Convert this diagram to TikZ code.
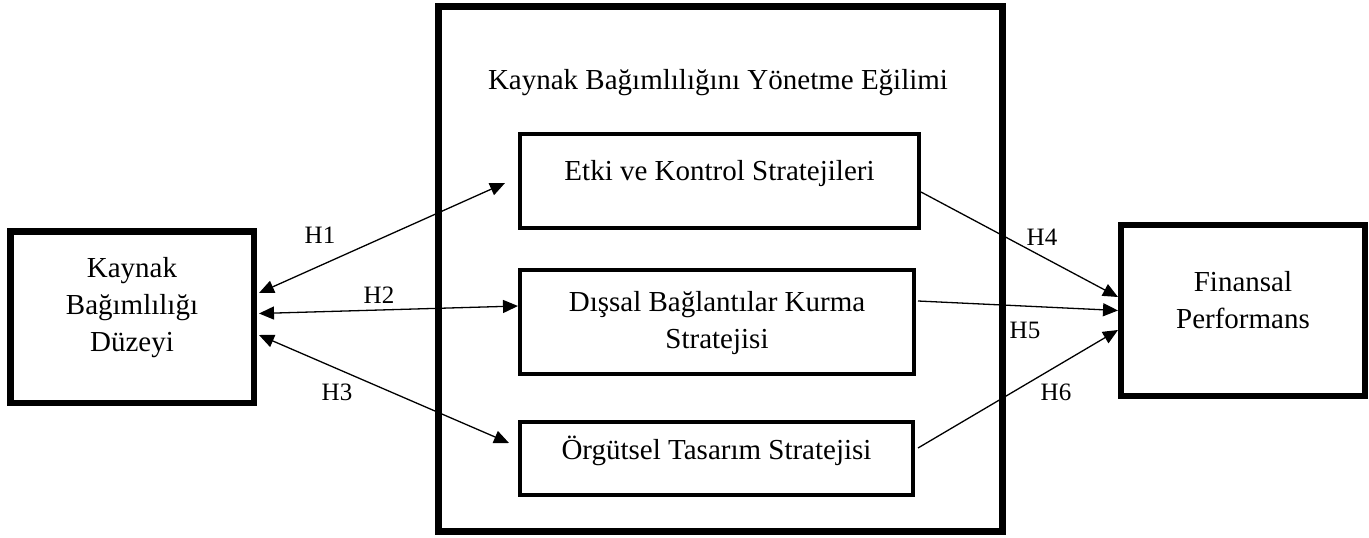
\documentclass[tikz,border=0pt]{standalone}
\usepackage{fontspec}
\setmainfont{Liberation Serif}
\usetikzlibrary{arrows.meta}

\begin{document}
\begin{tikzpicture}[x=1pt,y=-1pt,
        box/.style={draw,inner sep=0pt},
        txt/.style={align=center,font=\fontsize{29}{37}\selectfont},
        hyp/.style={font=\fontsize{25}{30}\selectfont},
        one/.style={line width=1.3pt,-{Triangle[length=15pt,width=13pt]}},
        two/.style={line width=1.3pt,{Triangle[length=15pt,width=13pt]}-{Triangle[length=15pt,width=13pt]}}]
                \useasboundingbox (0,0) rectangle (1369,538);

                \node[box,line width=7pt,minimum width=564pt,minimum height=525pt] (M) at (720.5,269) {};
                \node[txt] (MT) at (718,83) {Kaynak Bağımlılığını Yönetme Eğilimi};

                \node[box,line width=6.5pt,minimum width=243.5pt,minimum height=171.5pt] (L) at (132,317) {};
                \node[txt] (LT) at ([yshift=9pt]L.center) {Kaynak\\Bağımlılığı\\Düzeyi};

                \node[box,line width=4pt,minimum width=399pt,minimum height=94pt] (E) at (719.5,181) {};
                \node[txt] (ET) at ([yshift=7.7pt]E.center) {Etki ve Kontrol Stratejileri};

                \node[box,line width=4pt,minimum width=394pt,minimum height=104pt] (D) at (717,322) {};
                \node[txt] (DT) at ([yshift=-1pt]D.center) {Dışsal Bağlantılar Kurma\\Stratejisi};

                \node[box,line width=4pt,minimum width=393pt,minimum height=73pt] (O) at (716.5,458.5) {};
                \node[txt] (OT) at ([yshift=7.5pt]O.center) {Örgütsel Tasarım Stratejisi};

                \node[box,line width=6pt,minimum width=244pt,minimum height=171pt] (R) at (1243,310.5) {};
                \node[txt] (RT) at ([yshift=10.5pt]R.center) {Finansal\\Performans};

                \draw[two] ([xshift=2pt,yshift=24pt]L.east) -- ([xshift=-13pt,yshift=-2pt]E.west);
                \draw[two] ([xshift=2pt,yshift=3.5pt]L.east) -- ([yshift=16pt]D.west);
                \draw[two] ([xshift=2pt,yshift=-18pt]L.east) -- ([xshift=-9pt,yshift=15.5pt]O.west);

                \draw[one] ([yshift=-11pt]E.east) -- ([yshift=13.5pt]R.west);
                \draw[one] ([xshift=2pt,yshift=21pt]D.east) -- (R.west);
                \draw[one] ([xshift=3pt,yshift=10.5pt]O.east) -- ([yshift=-19.5pt]R.west);

                \node[hyp] (H1) at (320,235) {H1};
                \node[hyp] (H2) at (379,295) {H2};
                \node[hyp] (H3) at (337,392) {H3};
                \node[hyp] (H4) at (1042,237) {H4};
                \node[hyp] (H5) at (1025,330) {H5};
                \node[hyp] (H6) at (1056,392) {H6};
            \end{tikzpicture}
\end{document}
